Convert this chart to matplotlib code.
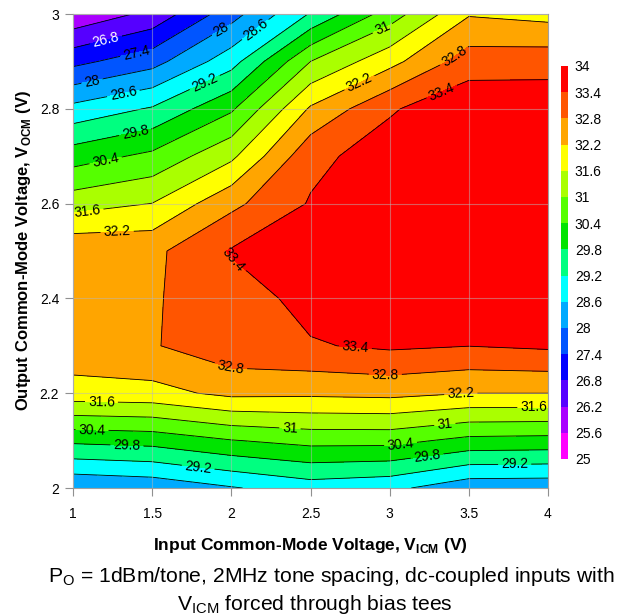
import numpy as np
import matplotlib
matplotlib.use("Agg")
import matplotlib.pyplot as plt

plt.rcParams['font.family'] = ['Liberation Sans', 'DejaVu Sans']

# grille de mesure (V)
vicm = [1.0, 1.5, 2.0, 2.5, 3.0, 3.5, 4.0]
vocm = [2.0, 2.1, 2.2, 2.3, 2.4, 2.5, 2.6, 2.7, 2.8, 2.9, 3.0]

# valeurs, une ligne par VOCM (de 2.0 a 3.0)
z_20 = [28.05, 28.18, 28.55, 28.90, 28.75, 28.20, 28.18]
z_21 = [29.92, 30.02, 30.37, 30.59, 30.59, 30.23, 30.19]
z_22 = [31.95, 32.00, 32.35, 32.32, 32.37, 32.20, 32.20]
z_23 = [32.60, 32.75, 33.20, 33.35, 33.50, 33.41, 33.50]
z_24 = [32.60, 32.75, 33.10, 33.60, 33.75, 33.85, 33.80]
z_25 = [32.70, 32.65, 33.45, 33.60, 33.80, 33.90, 33.85]
z_26 = [31.34, 31.61, 32.65, 33.45, 33.80, 33.90, 33.85]
z_27 = [30.12, 30.54, 31.47, 33.23, 33.70, 33.85, 33.80]
z_28 = [28.78, 29.26, 30.31, 32.28, 33.33, 33.85, 33.80]
z_29 = [27.23, 27.77, 28.95, 31.00, 32.00, 33.10, 33.15]
z_30 = [25.72, 26.36, 27.76, 29.25, 30.69, 32.15, 32.00]

# niveaux du contour et de la barre
niveaux = [25, 25.6, 26.2, 26.8, 27.4, 28, 28.6, 29.2, 29.8, 30.4,
           31, 31.6, 32.2, 32.8, 33.4, 34]
couleurs = ['#FF00FF', '#AA00FF', '#5500FF', '#0000FF', '#0055FF',
            '#00AAFF', '#00FFFF', '#00FF80', '#00E400', '#55FF00',
            '#AAFF00', '#FFFF00', '#FFA500', '#FF5500', '#FF0000']

xticks = [1, 1.5, 2, 2.5, 3, 3.5, 4]
yticks = [2, 2.2, 2.4, 2.6, 2.8, 3]

# endroits ou poser les etiquettes des lignes
etiquettes = {
    26.8: [(1.21, 2.942)],
    27.4: [(1.40, 2.917)],
    28: [(1.12, 2.857), (1.95, 2.959)],
    28.6: [(1.32, 2.829), (2.17, 2.959)],
    29.2: [(1.83, 2.857), (1.79, 2.041), (3.79, 2.036)],
    29.8: [(1.39, 2.755), (1.34, 2.089), (3.24, 2.058)],
    30.4: [(1.21, 2.685), (1.12, 2.123), (3.07, 2.089)],
    31: [(2.96, 2.966), (2.37, 2.125), (3.35, 2.129)],
    31.6: [(1.09, 2.583), (1.18, 2.190), (3.91, 2.167)],
    32.2: [(1.28, 2.530), (2.82, 2.847), (3.45, 2.195)],
    32.8: [(3.40, 2.914), (1.98, 2.237), (2.97, 2.222)],
    33.4: [(3.32, 2.843), (1.96, 2.460), (2.78, 2.281)],
}

z = np.array([z_20, z_21, z_22, z_23, z_24, z_25, z_26, z_27, z_28, z_29, z_30])

fig = plt.figure(figsize=(6.23, 6.15), dpi=100)
ax = fig.add_axes([0.1172, 0.2065, 0.7624, 0.7707])

cf = ax.contourf(vicm, vocm, z, levels=niveaux, colors=couleurs)

# une ligne par niveau, pour pouvoir placer les etiquettes a la main
for niv in niveaux[1:-1]:
    cs = ax.contour(vicm, vocm, z, levels=[niv], colors='k', linewidths=0.6)
    if niv in etiquettes:
        coul = 'white' if niv == 26.8 else 'black'
        ax.clabel(cs, manual=etiquettes[niv], fmt='%g', fontsize=10,
                  colors=coul, inline=True, inline_spacing=3)

ax.set_xlim(1, 4)
ax.set_ylim(2, 3)
ax.set_xticks(xticks)
ax.set_xticklabels(['%g' % t for t in xticks])
ax.set_yticks(yticks)
ax.set_yticklabels(['%g' % t for t in yticks])
ax.grid(True, color='#B8B8B8', alpha=0.5, linewidth=0.8)
ax.set_axisbelow(False)
ax.tick_params(direction='out', length=6, width=0.8, color='#909090',
               labelsize=10)
ax.tick_params(axis='x', pad=8)
ax.tick_params(axis='y', pad=4)
for sp in ax.spines.values():
    sp.set_color('#A0A0A0')
    sp.set_linewidth(0.8)

ax.set_xlabel(r'Input Common-Mode Voltage, V$_\mathregular{ICM}$ (V)',
              fontsize=12.5, fontweight='bold', va='center')
ax.xaxis.set_label_coords(0.5, -0.122)
ax.set_ylabel(r'Output Common-Mode Voltage, V$_\mathregular{OCM}$ (V)',
              fontsize=12, fontweight='bold', va='center')
ax.yaxis.set_label_coords(-0.104, 0.5)

# barre de couleur
cax = fig.add_axes([0.9005, 0.2537, 0.011, 0.639])
cb = fig.colorbar(cf, cax=cax, ticks=niveaux)
cb.outline.set_visible(False)
cb.ax.set_yticklabels(['%g' % v for v in niveaux])
cax.tick_params(length=0, labelsize=10, pad=5)

# legende sous le graphe
fig.text(0.532, 0.0634, r'P$_\mathregular{O}$ = 1dBm/tone, 2MHz tone spacing, dc-coupled inputs with',
         ha='center', va='center', fontsize=15.2)
fig.text(0.506, 0.0175, r'V$_\mathregular{ICM}$ forced through bias tees',
         ha='center', va='center', fontsize=15.2)

fig.savefig('out.png', dpi=100)
